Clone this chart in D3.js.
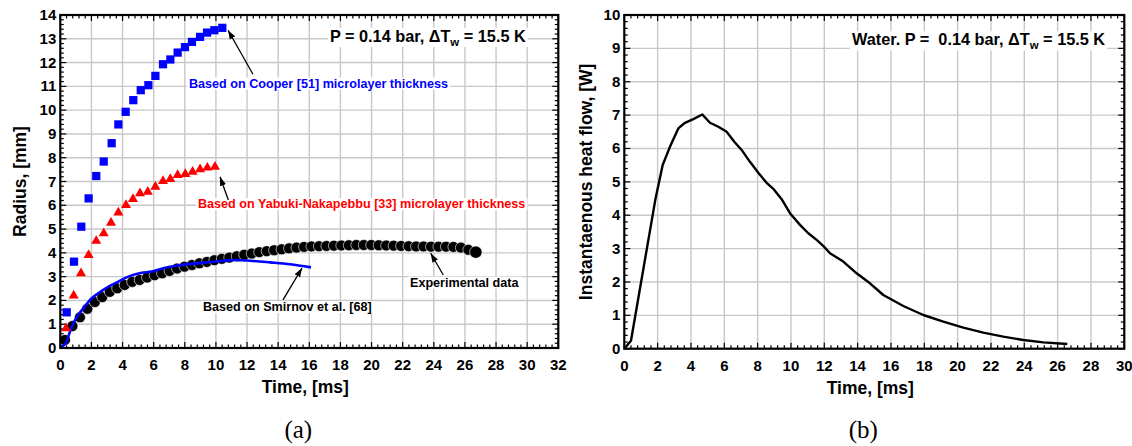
<!DOCTYPE html>
<html><head><meta charset="utf-8">
<script src="https://cdn.jsdelivr.net/npm/d3@7"></script>
<style>
body{margin:0;background:#fff}
svg{display:block}
text{font-family:"Liberation Sans",Arial,sans-serif;font-weight:bold;white-space:pre}
</style>
</head><body>
<svg id="c" width="1132" height="446"></svg>
<script>
// ---------- Data: panel (a) ----------
const cooperT = [0.41,0.88,1.35,1.82,2.31,2.79,3.30,3.73,4.20,4.69,5.17,5.66,6.11,6.60,7.07,7.54,8.01,8.46,8.98,9.43,9.90,10.41];
const cooperR = [1.50,3.63,5.10,6.29,7.23,7.84,8.61,9.40,9.93,10.42,10.84,11.05,11.44,11.93,12.13,12.42,12.65,12.87,13.08,13.26,13.36,13.46];

const yabukiT = [0.37,0.86,1.33,1.82,2.31,2.79,3.26,3.73,4.22,4.67,5.12,5.62,6.11,6.60,7.07,7.54,8.03,8.50,8.98,9.45,9.94];
const yabukiR = [0.83,2.20,3.14,3.91,4.50,4.82,5.26,5.69,6.01,6.26,6.50,6.57,6.78,7.02,7.10,7.27,7.31,7.41,7.51,7.58,7.62];

const expT = [0.30,0.78,1.26,1.74,2.22,2.70,3.18,3.66,4.14,4.62,5.10,5.58,6.06,6.54,7.02,7.50,7.98,8.46,8.94,9.42,9.90,10.38,10.86,11.34,11.82,12.30,12.78,13.26,13.74,14.22,14.70,15.18,15.66,16.14,16.62,17.10,17.58,18.06,18.54,19.02,19.50,19.98,20.46,20.94,21.42,21.90,22.38,22.86,23.34,23.82,24.30,24.78,25.26,25.74,26.22,26.70];
const expR = [0.34,0.92,1.29,1.65,1.93,2.14,2.36,2.51,2.65,2.78,2.86,2.96,3.06,3.14,3.24,3.34,3.42,3.49,3.56,3.62,3.69,3.75,3.80,3.86,3.92,3.97,4.03,4.07,4.11,4.15,4.19,4.22,4.25,4.27,4.28,4.29,4.30,4.31,4.32,4.33,4.33,4.33,4.32,4.31,4.30,4.29,4.28,4.27,4.27,4.26,4.26,4.26,4.25,4.22,4.13,4.03];

const smirT = [0.05,0.40,0.55,0.84,1.16,1.59,2.02,2.44,3.10,3.73,4.37,5.23,5.87,6.73,7.80,9.09,10.37,11.23,12.19,13.48,14.76,16.11];
const smirR = [0.05,0.25,0.55,1.04,1.39,1.76,2.09,2.30,2.58,2.79,3.00,3.16,3.21,3.37,3.49,3.58,3.66,3.70,3.67,3.60,3.52,3.39];

const xTicksA = d3.range(0, 33, 2);      // 0..32
const yTicksA = d3.range(0, 15, 1);      // 0..14

// ---------- Data: panel (b) ----------
const hfT = [0,0.40,1.86,2.30,2.74,3.24,3.64,4.14,4.68,5.14,5.64,6.14,6.60,7.08,7.54,8.04,8.54,8.94,9.44,9.94,10.54,11.04,11.54,11.98,12.34,13.14,13.94,14.74,15.54,16.74,17.94,19.14,20.34,21.54,22.74,23.94,25.14,26.58];
const hfQ = [0,0.24,4.46,5.50,6.05,6.60,6.77,6.88,7.02,6.77,6.65,6.50,6.20,5.93,5.60,5.27,4.97,4.79,4.48,4.06,3.71,3.46,3.26,3.06,2.86,2.61,2.26,1.96,1.61,1.28,1.01,0.81,0.63,0.48,0.36,0.26,0.19,0.14];

const xTicksB = d3.range(0, 31, 2);      // 0..30
const yTicksB = d3.range(0, 11, 1);      // 0..10

// ---------- Drawing ----------
const svg = d3.select("#c");
const defs = svg.append("defs");
defs.append("marker").attr("id","ah").attr("viewBox","0 0 10 10").attr("refX",10).attr("refY",5)
  .attr("markerWidth",9).attr("markerHeight",9).attr("markerUnits","userSpaceOnUse").attr("orient","auto")
  .append("path").attr("d","M0,1.5 L10,5 L0,8.5 Z").attr("fill","#000");

function panel(o){
  const g = svg.append("g");
  const x = d3.scaleLinear().domain(o.xd).range([o.x0, o.x1]);
  const y = d3.scaleLinear().domain(o.yd).range([o.y0, o.y1]);
  // grid
  g.append("g").selectAll("line.v").data(o.xt.slice(1,-1)).join("line")
    .attr("x1",d=>x(d)).attr("x2",d=>x(d)).attr("y1",o.y0).attr("y2",o.y1)
    .attr("stroke","#c8c8c8").attr("stroke-width",1.4);
  g.append("g").selectAll("line.h").data(o.yt.slice(1,-1)).join("line")
    .attr("y1",d=>y(d)).attr("y2",d=>y(d)).attr("x1",o.x0).attr("x2",o.x1)
    .attr("stroke","#c8c8c8").attr("stroke-width",1.4);
  // ticks (inward) on 4 sides
  const tk = g.append("g").attr("stroke","#000").attr("stroke-width",1.2);
  const xmin = d3.range(o.xd[0], o.xd[1]+1e-9, o.xm);
  const ymin = d3.range(o.yd[0], o.yd[1]+1e-9, o.ym);
  xmin.forEach(v=>{
    const major = o.xt.some(t=>Math.abs(t-v)<1e-6);
    const L = major?6:3.5;
    tk.append("line").attr("x1",x(v)).attr("x2",x(v)).attr("y1",o.y0).attr("y2",o.y0-L);
    tk.append("line").attr("x1",x(v)).attr("x2",x(v)).attr("y1",o.y1).attr("y2",o.y1+L);
  });
  ymin.forEach(v=>{
    const major = o.yt.some(t=>Math.abs(t-v)<1e-6);
    const L = major?6:3.5;
    tk.append("line").attr("y1",y(v)).attr("y2",y(v)).attr("x1",o.x0).attr("x2",o.x0+L);
    tk.append("line").attr("y1",y(v)).attr("y2",y(v)).attr("x1",o.x1).attr("x2",o.x1-L);
  });
  // tick labels
  g.append("g").selectAll("text").data(o.xt).join("text")
    .attr("x",d=>x(d)).attr("y",o.y0+22).attr("text-anchor","middle")
    .attr("font-size",15).text(d=>d);
  g.append("g").selectAll("text").data(o.yt).join("text")
    .attr("x",o.x0-4).attr("y",d=>y(d)+5).attr("text-anchor","end")
    .attr("font-size",15).text(d=>d);
  // axis titles
  g.append("text").attr("x",(o.x0+o.x1)/2 - 4).attr("y",o.y0+45).attr("text-anchor","middle")
    .attr("font-size",17.5).text(o.xl);
  g.append("text").attr("transform",`translate(${o.yx},${(o.y0+o.y1)/2}) rotate(-90)`)
    .attr("text-anchor","middle").attr("font-size",17.5).text(o.yl);
  // panel label
  g.append("text").attr("x",(o.x0+o.x1)/2 - 11).attr("y",438).attr("text-anchor","middle")
    .style("font-family","'Liberation Serif','Times New Roman',serif").style("font-weight","normal")
    .attr("font-size",25).text(o.lab);
  const plot = g.append("g");
  // frame
  g.append("rect").attr("x",o.x0).attr("y",o.y1).attr("width",o.x1-o.x0).attr("height",o.y0-o.y1)
    .attr("fill","none").attr("stroke","#000").attr("stroke-width",2.2);
  return {g, plot, x, y};
}

function label(parent, xp, yp, parts, opts){
  const t = parent.append("text").attr("x",xp).attr("y",yp).attr("font-size",opts.size)
    .attr("fill",opts.color||"#000").attr("text-anchor",opts.anchor||"start");
  parts.forEach(p=>{
    const s = t.append("tspan").text(p.t);
    if(p.sub){ s.attr("font-size",opts.size*0.7).attr("dy",4); }
    if(p.after){ s.attr("dy",-4); }
  });
  const bb = t.node().getBBox();
  parent.insert("rect", () => t.node()).attr("x",bb.x-2).attr("y",bb.y+1).attr("width",bb.width+4).attr("height",bb.height-2).attr("fill","#fff");
  return t;
}

function arrow(parent, x1,y1,x2,y2){
  parent.append("line").attr("x1",x1).attr("y1",y1).attr("x2",x2).attr("y2",y2)
    .attr("stroke","#000").attr("stroke-width",1.3).attr("marker-end","url(#ah)");
}

// ----- Panel (a)
const A = panel({x0:60.3,x1:558.3,y0:348,y1:15,xd:[0,32],yd:[0,14],xt:xTicksA,yt:yTicksA,xm:0.4,ym:0.2,
  xl:"Time, [ms]", yl:"Radius, [mm]", yx:26, lab:"(a)"});

// experimental circles
A.plot.append("g").selectAll("circle").data(expT).join("circle")
  .attr("cx",(d)=>A.x(d)).attr("cy",(d,i)=>A.y(expR[i])).attr("r",(d,i)=>i===expT.length-1?6.2:5.5)
  .attr("fill","#000").attr("stroke","#fff").attr("stroke-width",0.6);
// Smirnov line
A.plot.append("path").datum(smirT).attr("fill","none").attr("stroke","#0000ff").attr("stroke-width",2.6)
  .attr("d", d3.line().x(d=>A.x(d)).y((d,i)=>A.y(smirR[i])).curve(d3.curveMonotoneX));
// Cooper squares
A.plot.append("g").selectAll("path").data(cooperT).join("path")
  .attr("transform",(d,i)=>`translate(${A.x(d)},${A.y(cooperR[i])})`)
  .attr("d", d3.symbol(d3.symbolSquare, 68)()).attr("fill","#0000ff");
// Yabuki triangles
A.plot.append("g").selectAll("path").data(yabukiT).join("path")
  .attr("transform",(d,i)=>`translate(${A.x(d)},${A.y(yabukiR[i])})`)
  .attr("d", d3.symbol(d3.symbolTriangle, 44)()).attr("fill","#ff0000");

// annotations (a)
label(A.plot, A.x(29.91), A.y(12.87), [{t:"P = 0.14 bar, \u0394T"},{t:"w",sub:true},{t:" = 15.5 K",after:true}], {size:16.3, anchor:"end"});
label(A.plot, A.x(8.27), A.y(10.95), [{t:"Based on Cooper [51] microlayer thickness"}], {size:12.6, color:"#0000ff"});
label(A.plot, A.x(8.85), A.y(5.88), [{t:"Based on Yabuki-Nakapebbu [33] microlayer thickness"}], {size:12.6, color:"#ff0000"});
label(A.plot, A.x(9.17), A.y(1.55), [{t:"Based on Smirnov et al. [68]"}], {size:12.6});
label(A.plot, A.x(22.47), A.y(2.58), [{t:"Experimental data"}], {size:12.6});
arrow(A.plot, A.x(12.38), A.y(11.51), A.x(10.78), A.y(13.36));
arrow(A.plot, A.x(10.80), A.y(6.22), A.x(10.26), A.y(7.20));
arrow(A.plot, A.x(14.31), A.y(2.02), A.x(15.53), A.y(3.36));
arrow(A.plot, A.x(24.61), A.y(3.07), A.x(23.80), A.y(3.98));

// ----- Panel (b)
const B = panel({x0:624.3,x1:1124.3,y0:348.7,y1:15,xd:[0,30],yd:[0,10],xt:xTicksB,yt:yTicksB,xm:0.4,ym:0.2,
  xl:"Time, [ms]", yl:"Instantaenous heat flow, [W]", yx:592, lab:"(b)"});
B.plot.append("path").datum(hfT).attr("fill","none").attr("stroke","#000").attr("stroke-width",2.4)
  .attr("stroke-linejoin","round")
  .attr("d", d3.line().x(d=>B.x(d)).y((d,i)=>B.y(hfQ[i])));
label(B.plot, B.x(13.66), B.y(9.09), [{t:"Water. P =  0.14 bar, \u0394T"},{t:"w",sub:true},{t:" = 15.5 K",after:true}], {size:16.3});
</script>
</body></html>
